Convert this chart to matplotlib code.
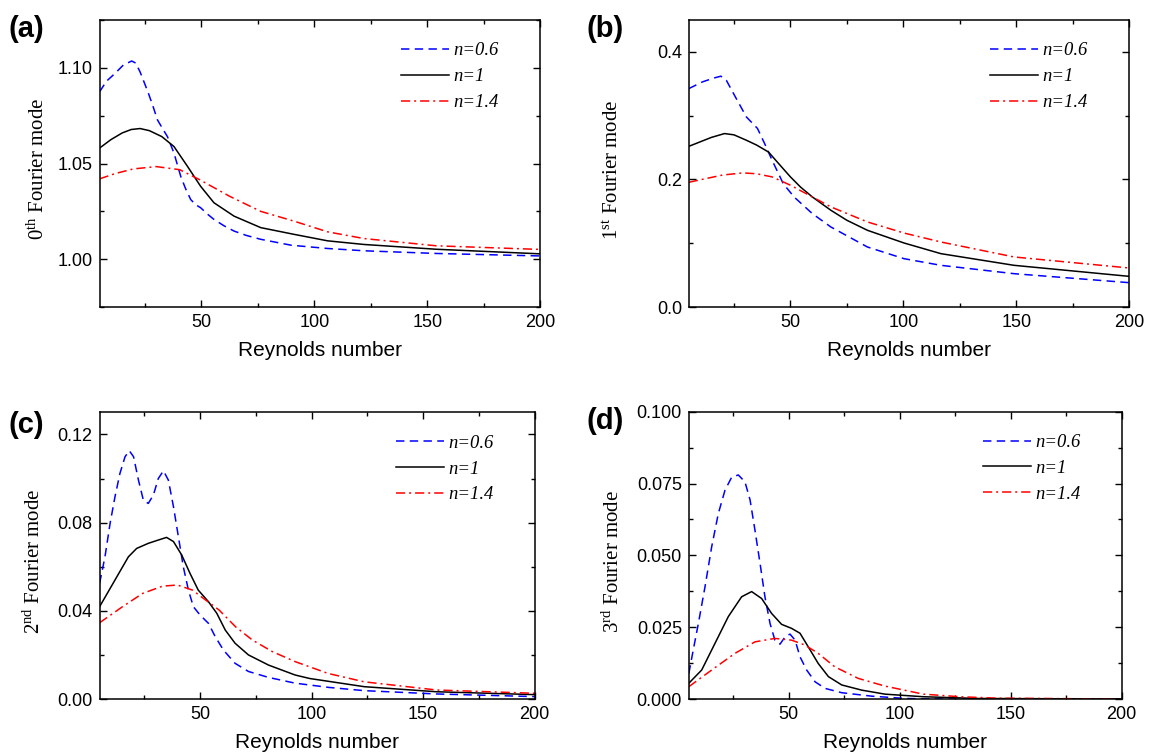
import matplotlib
matplotlib.use("Agg")
import matplotlib.pyplot as plt
from matplotlib.ticker import MultipleLocator

plt.rcParams['font.family'] = ['Liberation Sans', 'DejaVu Sans']
plt.rcParams['mathtext.fontset'] = 'custom'
plt.rcParams['mathtext.rm'] = 'Liberation Serif'
plt.rcParams['mathtext.it'] = 'Liberation Serif:italic'

# ---- data ----
# (a) 0th Fourier mode
a_x06 = [5, 8, 11.8, 15.5, 19.2, 21, 22.9, 24.7, 26.6, 28.6, 30.6, 33, 35, 37.9, 40.9, 43, 45.3, 47.5, 49.7, 52.7, 55.6, 60, 64.5, 70, 76.3, 89.8, 105.9, 122, 154, 200]
a_y06 = [1.0875, 1.0930, 1.0971, 1.1015, 1.1036, 1.1025, 1.0979, 1.0925, 1.0867, 1.0800, 1.0728, 1.0680, 1.0641, 1.0555, 1.0433, 1.0370, 1.0312, 1.0285, 1.0269, 1.0236, 1.0208, 1.0175, 1.0147, 1.0124, 1.0104, 1.0073, 1.0056, 1.0044, 1.0030, 1.0017]
a_x1 = [5, 10, 15, 19, 22.9, 27, 32.5, 37.9, 43.9, 49.7, 55.6, 64.5, 76.3, 91, 105.9, 122, 154, 200]
a_y1 = [1.0581, 1.0625, 1.0660, 1.0678, 1.0683, 1.0672, 1.0641, 1.0589, 1.0485, 1.0381, 1.0295, 1.0225, 1.0165, 1.0130, 1.0096, 1.0077, 1.0052, 1.0028]
a_x14 = [5, 12, 20, 30.1, 40.4, 49.2, 62.5, 76.3, 91, 105.9, 122, 154, 200]
a_y14 = [1.0420, 1.0448, 1.0472, 1.0484, 1.0468, 1.0416, 1.0329, 1.0250, 1.0199, 1.0143, 1.0108, 1.0070, 1.0051]

# (b) 1st Fourier mode
b_x06 = [5, 11, 16, 19.2, 21.6, 25.6, 30.5, 35.4, 38.6, 41.9, 46.8, 51.6, 59.7, 67.9, 84.1, 100.3, 116.6, 149, 200]
b_y06 = [0.3425, 0.353, 0.359, 0.362, 0.3556, 0.3295, 0.298, 0.280, 0.256, 0.230, 0.1935, 0.1726, 0.1464, 0.1255, 0.0941, 0.0758, 0.0654, 0.0523, 0.0382]
b_x1 = [5, 10, 15, 20.8, 25, 30.5, 35, 40.3, 45, 50, 54.5, 59.7, 67.9, 75, 84.1, 100.3, 116.6, 149, 200]
b_y1 = [0.252, 0.259, 0.266, 0.272, 0.270, 0.2615, 0.254, 0.243, 0.224, 0.204, 0.188, 0.1726, 0.1517, 0.136, 0.1203, 0.1004, 0.0837, 0.0654, 0.0481]
b_x14 = [5, 12, 20, 28.9, 35, 41.9, 50, 59.7, 67.9, 84.1, 100.3, 116.6, 149, 200]
b_y14 = [0.1956, 0.201, 0.207, 0.2103, 0.209, 0.204, 0.191, 0.1726, 0.157, 0.1334, 0.116, 0.102, 0.0785, 0.0612]

# (c) 2nd Fourier mode
c_x06 = [5, 7.4, 9.7, 11.9, 14.1, 16.4, 18.3, 20.2, 22.4, 24.6, 26.8, 29.1, 31.3, 33.6, 35.8, 38.1, 40.3, 42.5, 44.8, 47, 50, 53.8, 56.8, 60.5, 65.7, 71.7, 80.7, 92.6, 107.4, 123.6, 156, 200]
c_y06 = [0.0525, 0.0645, 0.0797, 0.0918, 0.1023, 0.1099, 0.1126, 0.1099, 0.0993, 0.0902, 0.0887, 0.0925, 0.1000, 0.1035, 0.0993, 0.0872, 0.0736, 0.0600, 0.0494, 0.0419, 0.0381, 0.0343, 0.0283, 0.0222, 0.0162, 0.0125, 0.0098, 0.0072, 0.0053, 0.0038, 0.0023, 0.0011]
c_x1 = [5, 11.9, 17.9, 21.6, 26.8, 31.3, 35, 38.1, 41.8, 45.5, 49.2, 53.8, 57.5, 61.3, 65.7, 71.7, 80.7, 92.6, 99.2, 123.6, 156, 200]
c_y1 = [0.0419, 0.0540, 0.0645, 0.0683, 0.0706, 0.0721, 0.0733, 0.0714, 0.0653, 0.0570, 0.0494, 0.0441, 0.0389, 0.0313, 0.0253, 0.0200, 0.0154, 0.0109, 0.0093, 0.0056, 0.0033, 0.0020]
c_x14 = [5, 15.3, 24.3, 33.2, 39.9, 46.6, 52.5, 58.5, 65.9, 73.4, 82.4, 92.8, 107.4, 123.6, 156, 200]
c_y14 = [0.0346, 0.0419, 0.0479, 0.0512, 0.0517, 0.0494, 0.0449, 0.0404, 0.0328, 0.0268, 0.0215, 0.0169, 0.0116, 0.0078, 0.0041, 0.0026]

# (d) 3rd Fourier mode
d_x06 = [5, 7, 9.3, 12.3, 15.3, 18.3, 21.3, 24.3, 27.3, 30.3, 32.6, 34.8, 37.1, 39.3, 41.6, 43.8, 46.1, 48.4, 50.6, 52.9, 55.1, 58.1, 61.9, 66.4, 73.9, 87.4, 102.5, 120, 200]
d_y06 = [0.0089, 0.0171, 0.0263, 0.0391, 0.0530, 0.0646, 0.0727, 0.0772, 0.0780, 0.0756, 0.0693, 0.0588, 0.0472, 0.0356, 0.0263, 0.0205, 0.0191, 0.0217, 0.0226, 0.0205, 0.0147, 0.0101, 0.0060, 0.0037, 0.0022, 0.0010, 0.0002, 0.0, 0.0]
d_x1 = [5, 10.8, 16.8, 22.8, 28.8, 33.3, 37.8, 42.3, 46.8, 51.3, 55.1, 58.8, 63.3, 67.9, 73.9, 82.9, 93.4, 110.7, 135.5, 200]
d_y1 = [0.0055, 0.0101, 0.0194, 0.0287, 0.0356, 0.0374, 0.0350, 0.0298, 0.0260, 0.0246, 0.0229, 0.0182, 0.0124, 0.0078, 0.0049, 0.0031, 0.0017, 0.0008, 0.0002, 0.0]
d_x14 = [5, 15.3, 25.8, 34.8, 43.8, 51.3, 57.3, 63.3, 70.8, 81.3, 93.4, 110.7, 127.2, 143.7, 200]
d_y14 = [0.0043, 0.0101, 0.0159, 0.0199, 0.0211, 0.0205, 0.0188, 0.0159, 0.0112, 0.0072, 0.0045, 0.0017, 0.0008, 0.0003, 0.0]

labels = ['n=0.6', 'n=1', 'n=1.4']

# tag, ylabel, xs, ys, ylim, yticks, fmt, minor step, axes rect, ylabel x, tag pos
panels = [
    ('(a)', r'0$^{\rm th}$ Fourier mode', [a_x06, a_x1, a_x14], [a_y06, a_y1, a_y14],
     (0.975, 1.125), [1.00, 1.05, 1.10], '%.2f', 0.025,
     [0.0867, 0.5928, 0.3835, 0.3806], -0.115, (8, 15)),
    ('(b)', r'1$^{\rm st}$ Fourier mode', [b_x06, b_x1, b_x14], [b_y06, b_y1, b_y14],
     (0.0, 0.45), [0.0, 0.2, 0.4], '%.1f', 0.1,
     [0.5995, 0.5928, 0.3833, 0.3806], -0.150, (587, 15)),
    ('(c)', r'2$^{\rm nd}$ Fourier mode', [c_x06, c_x1, c_x14], [c_y06, c_y1, c_y14],
     (0.0, 0.13), [0.0, 0.04, 0.08, 0.12], '%.2f', 0.02,
     [0.0867, 0.0729, 0.3787, 0.3802], -0.127, (8, 411)),
    ('(d)', r'3$^{\rm rd}$ Fourier mode', [d_x06, d_x1, d_x14], [d_y06, d_y1, d_y14],
     (0.0, 0.1), [0.0, 0.025, 0.05, 0.075, 0.1], '%.3f', 0.0125,
     [0.5995, 0.0729, 0.3766, 0.3810], -0.150, (587, 407)),
]

styles = [dict(color='#0000ff', ls=(0, (5.5, 3.5))),
          dict(color='black', ls='-'),
          dict(color='#ff0000', ls=(0, (6, 2.6, 1.3, 2.6)))]

W, H = 1149, 754
fig = plt.figure(figsize=(W / 100, H / 100), dpi=100)

for tag, ylab, xs, ys, ylim, yt, fmt, yminor, pos, ylx, tpos in panels:
    ax = fig.add_axes(pos)
    for x, y, st, lab in zip(xs, ys, styles, labels):
        ax.plot(x, y, lw=1.1, label=lab, **st)
    ax.set_xlim(5, 200)
    ax.set_ylim(*ylim)
    ax.set_xticks([50, 100, 150, 200])
    ax.xaxis.set_minor_locator(MultipleLocator(25))
    ax.set_yticks(yt)
    ax.set_yticklabels([fmt % v for v in yt])
    ax.yaxis.set_minor_locator(MultipleLocator(yminor))
    ax.tick_params(which='both', direction='in', top=True, right=True, labelsize=13, width=1)
    ax.tick_params(axis='x', which='major', pad=5)
    ax.tick_params(axis='y', which='major', pad=5)
    ax.tick_params(which='major', length=5)
    ax.tick_params(which='minor', length=3)
    for s in ax.spines.values():
        s.set_linewidth(1.1)
    ax.set_xlabel('Reynolds number', fontsize=15, labelpad=7)
    ax.set_ylabel(ylab, fontsize=15, fontfamily='Liberation Serif')
    ax.yaxis.set_label_coords(ylx, 0.48)
    leg = ax.legend(loc='upper right', bbox_to_anchor=(0.905, 0.922), frameon=False,
                    prop=dict(family='Liberation Serif', style='italic', size=13.4),
                    handlelength=2.6, handletextpad=0.2, labelspacing=0.47,
                    borderaxespad=0, borderpad=0)
    fig.text(tpos[0] / W, 1 - tpos[1] / H, tag, fontsize=21, fontweight='bold',
             va='top', ha='left')

fig.savefig('out.png', dpi=100)
